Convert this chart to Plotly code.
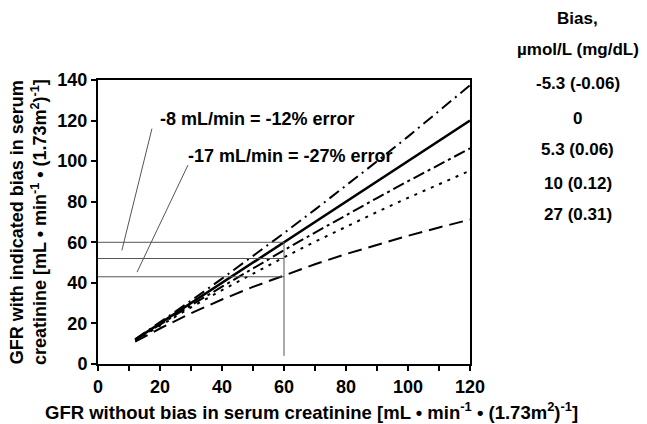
import plotly.graph_objects as go

# GFR without bias (x) and GFR with indicated creatinine bias (y)
gfr_true = [12, 20, 30, 40, 50, 60, 70, 80, 90, 100, 110, 120]
gfr_bias_m5_3 = [12.2, 20.6, 31.2, 42.1, 53.2, 64.5, 76.1, 87.9, 99.9, 112.1, 124.6, 137.4]
gfr_bias_0 = [12, 20, 30, 40, 50, 60, 70, 80, 90, 100, 110, 120]
gfr_bias_5_3 = [11.8, 19.5, 28.9, 38.1, 47.2, 56.1, 64.8, 73.4, 81.8, 90.1, 98.3, 106.3]
gfr_bias_10 = [11.6, 19.0, 27.9, 36.4, 44.6, 52.6, 60.3, 67.7, 74.9, 81.9, 88.7, 95.3]
gfr_bias_27 = [11.0, 17.5, 25.0, 31.8, 38.0, 43.8, 49.2, 54.2, 58.8, 63.2, 67.3, 71.2]

bias_labels = ["-5.3 (-0.06)", "0", "5.3 (0.06)", "10 (0.12)", "27 (0.31)"]

# reference lines at GFR 60
ref_x = 60
ref_levels = [60, 52, 43]
ref_bottom = 4

# annotation texts and leader lines
ann_texts = ["-8 mL/min = -12% error", "-17 mL/min = -27% error"]
ann_pos = [(51.5, 121), (62, 102.6)]
leaders = [((17.4, 116), (7.7, 56)), ((29, 98), (12.6, 45.3))]

FONT = "Liberation Sans, Arial, sans-serif"
FS = 18


def bold(size=FS):
    return dict(family=FONT, size=size, color="black", weight="bold")


fig = go.Figure()

styles = [
    (gfr_bias_m5_3, "12px,5px,2px,5px", 2),
    (gfr_bias_0, "solid", 2.5),
    (gfr_bias_5_3, "12px,4px,3px,4px", 2),
    (gfr_bias_10, "3px,6px", 2),
    (gfr_bias_27, "14px,7px", 2),
]
for ys, dash, w in styles:
    fig.add_trace(go.Scatter(x=gfr_true, y=ys, mode="lines",
                             line=dict(color="black", width=w, dash=dash),
                             showlegend=False, hoverinfo="skip"))

# reference lines
for lv in ref_levels:
    fig.add_trace(go.Scatter(x=[0, ref_x], y=[lv, lv], mode="lines",
                             line=dict(color="#555555", width=1),
                             showlegend=False, hoverinfo="skip"))
fig.add_trace(go.Scatter(x=[ref_x, ref_x], y=[ref_bottom, ref_levels[0]], mode="lines",
                         line=dict(color="#555555", width=1),
                         showlegend=False, hoverinfo="skip"))
for (p1, p2) in leaders:
    fig.add_trace(go.Scatter(x=[p1[0], p2[0]], y=[p1[1], p2[1]], mode="lines",
                             line=dict(color="#555555", width=1),
                             showlegend=False, hoverinfo="skip"))

annotations = []
for t, (ax, ay) in zip(ann_texts, ann_pos):
    annotations.append(dict(x=ax, y=ay, xref="x", yref="y", text=t, showarrow=False,
                            xanchor="center", yanchor="middle", font=bold()))

# legend-like labels on the right
LX = 1.29
annotations.append(dict(x=LX, y=1.218, xref="paper", yref="paper", text="Bias,",
                        showarrow=False, xanchor="center", yanchor="middle", font=bold(17)))
annotations.append(dict(x=LX, y=1.106, xref="paper", yref="paper", text="µmol/L (mg/dL)",
                        showarrow=False, xanchor="center", yanchor="middle", font=bold(17)))
legend_y = [0.986, 0.866, 0.754, 0.637, 0.528]
for lbl, ly in zip(bias_labels, legend_y):
    annotations.append(dict(x=LX, y=ly, xref="paper", yref="paper", text=lbl,
                            showarrow=False, xanchor="center", yanchor="middle", font=bold(17)))

# axis titles
annotations.append(dict(x=0.575, y=-0.165, xref="paper", yref="paper",
                        text="GFR without bias in serum creatinine [mL • min<sup>-1</sup> • (1.73m<sup>2</sup>)<sup>-1</sup>]",
                        showarrow=False, xanchor="center", yanchor="middle", font=bold(18.5)))
annotations.append(dict(x=-0.188, y=0.5, xref="paper", yref="paper", textangle=-90,
                        text="GFR with indicated bias in serum<br>creatinine [mL • min<sup>-1</sup> • (1.73m<sup>2</sup>)<sup>-1</sup>]",
                        showarrow=False, xanchor="center", yanchor="middle", font=bold()))

fig.update_layout(
    width=639, height=416,
    margin=dict(l=90, r=177, t=72, b=60),
    paper_bgcolor="white", plot_bgcolor="white",
    annotations=annotations,
    xaxis=dict(range=[0, 120], tickvals=[0, 20, 40, 60, 80, 100, 120],
               ticks="outside", ticklen=5, tickwidth=2, tickcolor="black",
               minor=dict(dtick=10, ticks="outside", ticklen=5, tickwidth=2, tickcolor="black"),
               showline=True, linecolor="black", linewidth=2, mirror=True,
               showgrid=False, zeroline=False, tickfont=bold()),
    yaxis=dict(range=[0, 140], tickvals=[0, 20, 40, 60, 80, 100, 120, 140],
               ticks="outside", ticklen=5, tickwidth=2, tickcolor="black",
               showline=True, linecolor="black", linewidth=2, mirror=True,
               showgrid=False, zeroline=False, tickfont=bold()),
)

fig.write_html("out.html")
